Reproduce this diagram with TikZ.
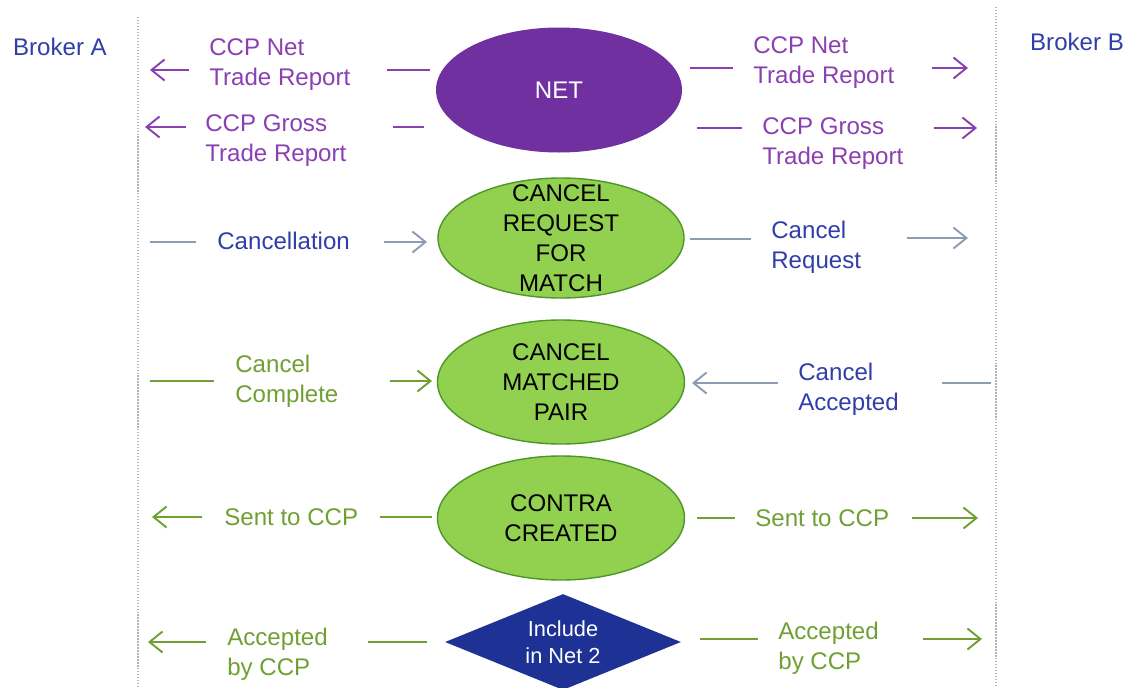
\documentclass[tikz,border=0pt]{standalone}
\usepackage{fontspec}
\setmainfont{Liberation Sans}
\usetikzlibrary{arrows.meta,shapes.geometric}
\definecolor{netpurple}{RGB}{112,48,160}
\definecolor{msgpurple}{RGB}{138,64,178}
\definecolor{msgblue}{RGB}{48,62,170}
\definecolor{msggreen}{RGB}{112,160,52}
\definecolor{linegray}{RGB}{140,156,178}
\definecolor{stategreen}{RGB}{146,208,80}
\definecolor{stateedge}{RGB}{78,150,40}
\definecolor{netblue}{RGB}{30,50,150}
\tikzset{
	txt/.style={font=\fontsize{13.7}{17.1}\selectfont, inner sep=0pt, align=left, anchor=west},
	ptxt/.style={txt, text=msgpurple},
	btxt/.style={txt, text=msgblue},
	gtxt/.style={txt, text=msggreen},
	tip/.style={-{Straight Barb[length=0.26cm, width=0.42cm]}},
	pline/.style={draw=msgpurple, line width=1.1pt},
	bline/.style={draw=linegray, line width=1.1pt},
	gline/.style={draw=msggreen, line width=1.1pt},
	plarr/.style={pline, tip},
	barr/.style={bline, tip},
	garr/.style={gline, tip},
	lane/.style={draw=gray!60, densely dotted, line width=0.7pt},
	state/.style={ellipse, fill=stategreen, draw=stateedge, line width=0.8pt, inner sep=0pt},
	inside/.style={font=\fontsize{13.7}{17.1}\selectfont, align=center, inner sep=0pt}
}
\begin{document}
\begin{tikzpicture}
		%%%%% START %%%%%
		\useasboundingbox[fill=white] (0, 0) rectangle (22.52, -13.74);
		
		% brokers and lanes
		\node[btxt, anchor=center] (brokerA) at (1.20, -0.94) {Broker A};
		\node[btxt, anchor=center] (brokerB) at (21.54, -0.84) {Broker B};
		\coordinate (laneAtop) at (2.76, -0.34);
		\coordinate (laneAbot) at (2.76, -13.74);
		\coordinate (laneBtop) at (19.92, -0.14);
		\coordinate (laneBbot) at (19.92, -13.74);
		\draw[lane] (laneAtop) -- (laneAbot);
		\draw[lane] (laneBtop) -- (laneBbot);
		
		% states
		\node[ellipse, fill=netpurple, inner sep=0pt, minimum width=4.92cm, minimum height=2.50cm,
			label={[inside, text=white]center:NET}] (net) at (11.18, -1.80) {};
		\node[state, minimum width=4.92cm, minimum height=2.40cm,
			label={[inside]center:CANCEL\\REQUEST\\FOR\\MATCH}] (request) at (11.22, -4.76) {};
		\node[state, minimum width=4.94cm, minimum height=2.48cm,
			label={[inside]center:CANCEL\\MATCHED\\PAIR}] (pair) at (11.22, -7.64) {};
		\node[state, minimum width=4.94cm, minimum height=2.48cm,
			label={[inside]center:CONTRA\\CREATED}] (contra) at (11.22, -10.36) {};
		\node[diamond, fill=netblue, inner sep=0pt, minimum width=4.72cm, minimum height=1.92cm,
			label={[inside, font=\fontsize{12.4}{15.4}\selectfont, text=white]center:Include\\in Net 2}] (include) at (11.26, -12.84) {};
		
		% messages
		\node[ptxt] (netA) at (4.18, -1.29) {CCP Net\\Trade Report};
		\node[ptxt] (grossA) at (4.10, -2.81) {CCP Gross\\Trade Report};
		\node[ptxt] (netB) at (15.06, -1.25) {CCP Net\\Trade Report};
		\node[ptxt] (grossB) at (15.24, -2.87) {CCP Gross\\Trade Report};
		\node[btxt] (cancelA) at (4.34, -4.82) {Cancellation};
		\node[btxt] (requestB) at (15.42, -4.95) {Cancel\\Request};
		\node[gtxt] (doneA) at (4.70, -7.63) {Cancel\\Complete};
		\node[btxt] (acceptB) at (15.96, -7.79) {Cancel\\Accepted};
		\node[gtxt] (sentA) at (4.48, -10.34) {Sent to CCP};
		\node[gtxt] (sentB) at (15.10, -10.36) {Sent to CCP};
		\node[gtxt] (accA) at (4.54, -13.09) {Accepted\\by CCP};
		\node[gtxt] (accB) at (15.56, -12.97) {Accepted\\by CCP};
		
		% connector pieces
		\foreach \nm/\xa/\xb/\yy/\st in {
				n1/3.78/3.00/-1.40/plarr, n2/7.74/8.60/-1.40/pline,
				n3/13.80/14.66/-1.36/pline, n4/18.64/19.36/-1.36/plarr,
				g1/3.72/2.90/-2.54/plarr, g2/7.86/8.48/-2.54/pline,
				g3/13.94/14.84/-2.56/pline, g4/18.68/19.54/-2.56/plarr,
				c1/3.00/3.92/-4.84/bline, c2/7.68/8.54/-4.84/barr,
				c3/13.80/15.02/-4.78/bline, c4/18.14/19.36/-4.76/barr,
				m1/3.00/4.28/-7.62/gline, m2/7.80/8.64/-7.62/garr,
				m3/15.56/13.84/-7.66/barr, m4/18.84/19.82/-7.66/bline,
				s1/4.04/3.04/-10.34/garr, s2/7.60/8.64/-10.34/gline,
				s3/13.94/14.70/-10.36/gline, s4/18.24/19.56/-10.36/garr,
				a1/4.12/2.96/-12.84/garr, a2/7.36/8.54/-12.84/gline,
				a3/14.00/15.16/-12.78/gline, a4/18.46/19.64/-12.78/garr}{
			\coordinate (\nm-from) at (\xa, \yy);
			\coordinate (\nm-to) at (\xb, \yy);
			\draw[\st] (\nm-from) -- (\nm-to);
		}
		%%%%% END %%%%%
	\end{tikzpicture}
\end{document}
